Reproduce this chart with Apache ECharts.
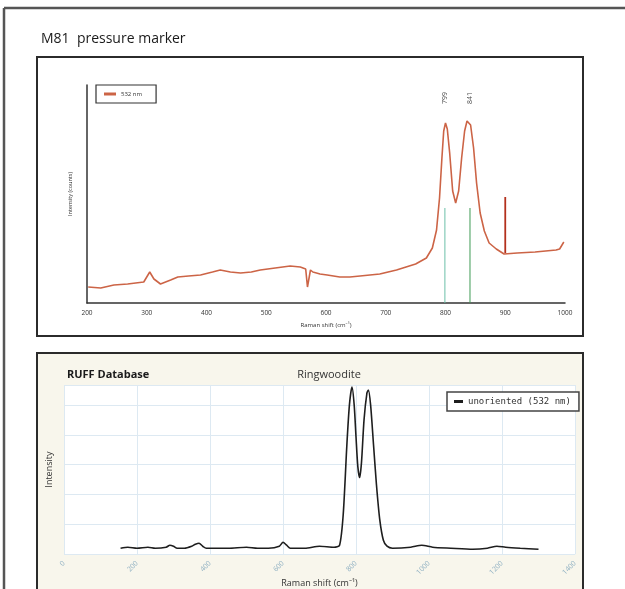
<!DOCTYPE html>
<html>
<head>
<meta charset="utf-8">
<script src="https://cdn.jsdelivr.net/npm/echarts@6/dist/echarts.min.js"></script>
<style>
html,body{margin:0;padding:0;background:#fff;}
#c{width:625px;height:589px;}
</style>
</head>
<body>
<div id="c"></div>
<script>
// ---- Top panel: M81 pressure marker (532 nm) ----
const m81Shift     = [202, 223, 245, 268, 295, 300, 305, 312, 323, 340, 352, 370, 390, 410, 423, 440, 457, 475, 490, 515, 540, 557, 566, 569, 571, 574, 578, 590, 602, 623, 640, 657, 690, 718, 750, 768, 778, 785, 790, 794, 797, 800, 803, 807, 812, 817, 822, 827, 832, 836, 839, 842, 847, 852, 858, 865, 873, 885, 898, 920, 950, 985, 991, 998];
const m81Intensity = [16, 15, 18, 19, 21, 26, 31, 24, 19, 23, 26, 27, 28, 31, 33, 31, 30, 31, 33, 35, 37, 36, 34, 16, 16, 33, 31, 29, 28, 26, 26, 27, 29, 33, 39, 45, 55, 73, 105, 145, 172, 180, 174, 150, 112, 100, 112, 145, 172, 182, 184, 178, 155, 120, 90, 72, 60, 54, 49, 50, 51, 53, 54, 61];
const spikeShift = 900;
const spikeRange = [50, 106];
const peakPositions = [799, 841];
const peakLineTop = 95;
const peakLabelLevel = 205;
const topTicks = [200, 300, 400, 500, 600, 700, 800, 900, 1000];

// ---- Bottom panel: RUFF Database, Ringwoodite ----
const ruffShift     = [155, 175, 200, 230, 250, 280, 290, 300, 310, 330, 350, 360, 370, 380, 390, 420, 450, 500, 530, 560, 590, 600, 610, 620, 660, 700, 740, 755, 765, 775, 782, 789, 795, 800, 805, 810, 815, 822, 830, 834, 840, 848, 856, 865, 875, 885, 900, 950, 980, 1010, 1060, 1120, 1160, 1186, 1210, 1250, 1300];
const ruffIntensity = [6, 7, 6, 7, 6, 7, 9, 8, 6, 6, 8, 10, 11, 8, 6, 6, 6, 7, 6, 6, 8, 12, 9, 6, 6, 8, 7, 9, 40, 110, 150, 168, 150, 118, 88, 77, 92, 135, 162, 165, 150, 110, 70, 35, 14, 8, 6, 7, 9, 7, 6, 5, 6, 8, 7, 6, 5];
const bottomTicks = [0, 200, 400, 600, 800, 1000, 1200, 1400];

const pair = (xs, ys) => xs.map((x, i) => [x, ys[i]]);

const chart = echarts.init(document.getElementById('c'));
const FONT = "'Open Sans', 'Noto Sans', sans-serif";

chart.setOption({
  animation: false,
  backgroundColor: '#ffffff',
  textStyle: { fontFamily: FONT },
  title: [
    { text: 'M81  pressure marker', left: 36, top: 27, textStyle: { fontSize: 14, fontWeight: 'normal', color: '#1a1a1a', fontFamily: FONT } },
    { text: 'RUFF Database', left: 62, top: 364, textStyle: { fontSize: 11, fontWeight: 'bold', color: '#1a1a1a', fontFamily: FONT } },
    { text: 'Ringwoodite', left: 324, top: 364, textAlign: 'center', textStyle: { fontSize: 11, fontWeight: 'normal', color: '#333', fontFamily: FONT } }
  ],
  graphic: [
    { type: 'line', z: -5, shape: { x1: 4, y1: 8, x2: 625, y2: 8 }, style: { stroke: '#555', lineWidth: 2.5 } },
    { type: 'line', z: -5, shape: { x1: 4, y1: 8, x2: 4, y2: 589 }, style: { stroke: '#555', lineWidth: 2.5 } },
    { type: 'rect', z: -5, shape: { x: 37, y: 57, width: 546, height: 279 }, style: { fill: '#fff', stroke: '#2b2b2b', lineWidth: 2 } },
    { type: 'rect', z: -5, shape: { x: 37, y: 353, width: 546, height: 250 }, style: { fill: '#f8f6ec', stroke: '#2b2b2b', lineWidth: 2 } }
  ],
  legend: [
    {
      data: ['532 nm'], left: 96, top: 85, orient: 'vertical',
      padding: [6, 14, 6, 8], itemWidth: 12, itemHeight: 3, icon: 'rect',
      borderColor: '#333', borderWidth: 1.2, backgroundColor: '#fff',
      textStyle: { fontSize: 6, color: '#333', fontFamily: FONT }
    },
    {
      data: ['unoriented (532 nm)'], left: 447, top: 392, orient: 'vertical',
      padding: [5, 8, 5, 7], itemWidth: 9, itemHeight: 3, icon: 'rect', itemGap: 2,
      borderColor: '#444', borderWidth: 1.5, backgroundColor: '#fff',
      textStyle: { fontSize: 9, color: '#333', fontFamily: "'DejaVu Sans Mono', 'Liberation Mono', monospace" }
    }
  ],
  grid: [
    { left: 87, right: 60, top: 85, bottom: 286 },
    { left: 64, right: 50, top: 385, bottom: 34, show: true, backgroundColor: '#fff', borderWidth: 0 }
  ],
  xAxis: [
    {
      gridIndex: 0, type: 'value', min: 200, max: 1000, interval: 100,
      axisLine: { lineStyle: { color: '#333', width: 1.5 } },
      axisTick: { show: false }, splitLine: { show: false },
      axisLabel: { fontSize: 6.5, color: '#333', margin: 7, formatter: v => topTicks.includes(v) ? String(v) : '' },
      name: 'Raman shift (cm⁻¹)', nameLocation: 'middle', nameGap: 19,
      nameTextStyle: { fontSize: 6, color: '#333' }
    },
    {
      gridIndex: 1, type: 'value', min: 0, max: 1400, interval: 200,
      axisLine: { show: false }, axisTick: { show: false },
      splitLine: { show: true, lineStyle: { color: '#dde9f2', width: 1 } },
      axisLabel: { fontSize: 7, color: '#8fb0c2', rotate: 45, margin: 8, formatter: v => bottomTicks.includes(v) ? String(v) : '' },
      name: 'Raman shift (cm⁻¹)', nameLocation: 'middle', nameGap: 21,
      nameTextStyle: { fontSize: 9, color: '#333' }
    }
  ],
  yAxis: [
    {
      gridIndex: 0, type: 'value', min: 0, max: 218,
      axisLine: { show: true, lineStyle: { color: '#333', width: 1.5 } },
      axisTick: { show: false }, axisLabel: { show: false }, splitLine: { show: false },
      name: 'Intensity (counts)', nameLocation: 'middle', nameGap: 14, nameRotate: 90,
      nameTextStyle: { fontSize: 5.5, color: '#333' }
    },
    {
      gridIndex: 1, type: 'value', min: 0, max: 170, interval: 30,
      axisLine: { show: false }, axisTick: { show: false }, axisLabel: { show: false },
      splitLine: { show: true, lineStyle: { color: '#dde9f2', width: 1 } },
      name: 'Intensity', nameLocation: 'middle', nameGap: 10, nameRotate: 90,
      nameTextStyle: { fontSize: 9, color: '#333' }
    }
  ],
  series: [
    {
      name: '532 nm', type: 'line', xAxisIndex: 0, yAxisIndex: 0,
      data: pair(m81Shift, m81Intensity), showSymbol: false, symbol: 'none',
      smooth: false, lineStyle: { color: '#cc6446', width: 1.6 }, itemStyle: { color: '#cc6446' }, z: 3
    },
    {
      name: 'spike', type: 'line', xAxisIndex: 0, yAxisIndex: 0,
      data: spikeRange.map(v => [spikeShift, v]), symbol: 'none',
      lineStyle: { color: '#b3301d', width: 1.8 }, z: 4
    },
    {
      name: 'peak799', type: 'line', xAxisIndex: 0, yAxisIndex: 0,
      data: [[peakPositions[0], 0], [peakPositions[0], peakLineTop]], symbol: 'none',
      lineStyle: { color: '#6cbfa8', width: 1 }, z: 2
    },
    {
      name: 'peak841', type: 'line', xAxisIndex: 0, yAxisIndex: 0,
      data: [[peakPositions[1], 0], [peakPositions[1], peakLineTop]], symbol: 'none',
      lineStyle: { color: '#3f9a55', width: 1 }, z: 2
    },
    {
      name: 'peakLabels', type: 'scatter', xAxisIndex: 0, yAxisIndex: 0,
      data: peakPositions.map(p => [p, peakLabelLevel]), symbolSize: 0,
      label: { show: true, rotate: 90, position: 'inside', fontSize: 7, color: '#222', formatter: p => String(p.value[0]) }
    },
    {
      name: 'unoriented (532 nm)', type: 'line', xAxisIndex: 1, yAxisIndex: 1,
      data: pair(ruffShift, ruffIntensity), showSymbol: false, symbol: 'none',
      smooth: 0.25, lineStyle: { color: '#1e1e1e', width: 1.6 }, itemStyle: { color: '#1e1e1e' }, z: 3
    }
  ]
});
</script>
</body>
</html>
